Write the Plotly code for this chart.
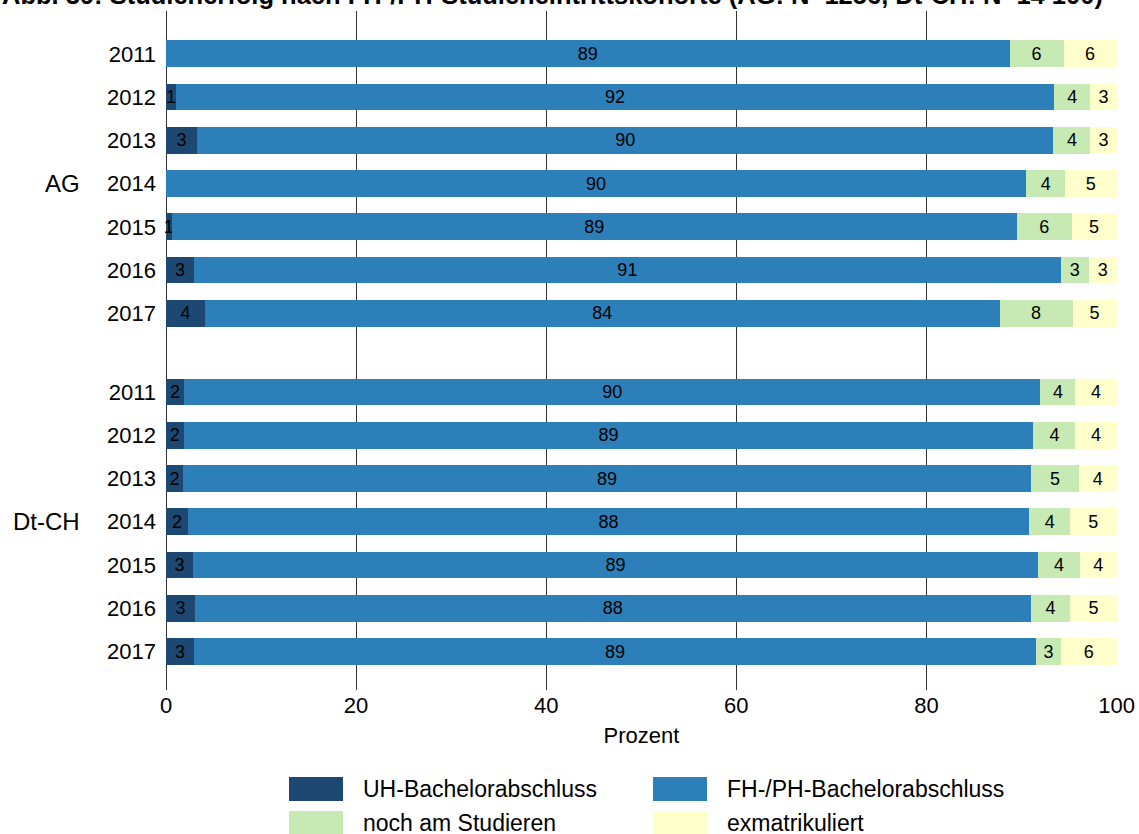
import plotly.graph_objects as go

# ---------------- data ----------------
years = ["2011", "2012", "2013", "2014", "2015", "2016", "2017"]
groups = ["AG", "Dt-CH"]
series_names = ["UH-Bachelorabschluss", "FH-/PH-Bachelorabschluss", "noch am Studieren", "exmatrikuliert"]

ag_uh = [0.0, 1.05, 3.26, 0.0, 0.6, 2.94, 4.1]
ag_fh = [88.75, 92.4, 90.1, 90.5, 88.9, 91.2, 83.6]
ag_noch = [5.68, 3.79, 3.89, 4.1, 5.78, 2.94, 7.68]
ag_exm = [5.57, 2.76, 2.75, 5.4, 4.72, 2.92, 4.62]

ch_uh = [1.89, 1.86, 1.79, 2.31, 2.84, 3.05, 2.94]
ch_fh = [90.1, 89.4, 89.2, 88.5, 88.9, 87.9, 88.6]
ch_noch = [3.68, 4.42, 5.05, 4.31, 4.42, 4.2, 2.63]
ch_exm = [4.33, 4.32, 3.96, 4.88, 3.84, 4.85, 5.83]

colors = ["#1d4872", "#2c7fb8", "#c7e9b4", "#ffffcc"]

title_text = "Abb. 39: Studienerfolg nach FH-/PH-Studieneintrittskohorte (AG: N=1256, Dt-CH: N=14 100)"

# ---------------- layout helpers ----------------
FONT = "Liberation Sans, Arial, sans-serif"
W, H = 1139, 834
ML, MR, MT, MB = 166, 22, 11, 144
PW, PH = W - ML - MR, H - MT - MB
group_offset = 7.82  # row distance between the two blocks

def px_x(px):
    return (px - ML) / PW

def px_y(py):
    return (H - MB - py) / PH

positions = []
ticktext = []
for gi, g in enumerate(groups):
    for yi, y in enumerate(years):
        positions.append(yi + gi * group_offset)
        ticktext.append(y)

all_series = [ag_uh + ch_uh, ag_fh + ch_fh, ag_noch + ch_noch, ag_exm + ch_exm]

fig = go.Figure()
for name, vals, col in zip(series_names, all_series, colors):
    labels = [f"{v:.0f}" if v >= 0.5 else "" for v in vals]
    fig.add_trace(go.Bar(
        x=vals, y=positions, orientation="h", name=name,
        marker=dict(color=col, line=dict(width=0)),
        text=labels, textposition="inside", insidetextanchor="middle",
        constraintext="none", cliponaxis=False,
        textfont=dict(color="black", size=18, family=FONT),
        showlegend=False,
    ))

fig.update_layout(
    width=W, height=H,
    barmode="stack", bargap=0.38,
    margin=dict(l=ML, r=MR, t=MT, b=MB, autoexpand=False),
    plot_bgcolor="white", paper_bgcolor="white",
    font=dict(family=FONT, color="black", size=22),
)
fig.update_xaxes(
    range=[0, 100.05], tickvals=[0, 20, 40, 60, 80, 100],
    showgrid=True, gridcolor="#333333", gridwidth=1,
    zeroline=True, zerolinecolor="#333333", zerolinewidth=1,
    showline=False, ticks="", tickfont=dict(size=22), automargin=False,
    title=dict(text="Prozent", font=dict(size=22), standoff=10),
)
fig.update_yaxes(
    range=[14.71, -0.99], tickvals=positions, ticktext=ticktext,
    showgrid=False, zeroline=False, showline=False, ticks="",
    tickfont=dict(size=22), ticklabelstandoff=9, automargin=False,
)

# title (partly above the top edge, as in the reference)
fig.add_annotation(
    text="<b>" + title_text + "</b>", xref="paper", yref="paper",
    x=px_x(0), y=px_y(-5), xanchor="left", yanchor="middle", showarrow=False,
    font=dict(size=25.5, family=FONT, color="black"),
)

# group labels
for gi, g in enumerate(groups):
    fig.add_annotation(
        text=g, xref="paper", yref="y", x=px_x(82), y=3 + gi * group_offset,
        xanchor="right", yanchor="middle", showarrow=False,
        font=dict(size=24, color="black"),
    )

# legend (two columns, two rows)
leg_cols_px = [289, 653]
leg_rows_px = [789, 823]
for i, (name, col) in enumerate(zip(series_names, colors)):
    cx = leg_cols_px[i % 2]
    cy = leg_rows_px[i // 2]
    fig.add_shape(type="rect", xref="paper", yref="paper",
                  x0=px_x(cx), x1=px_x(cx + 54), y0=px_y(cy - 12), y1=px_y(cy + 12),
                  fillcolor=col, line=dict(width=0))
    fig.add_annotation(text=name, xref="paper", yref="paper",
                       x=px_x(cx + 72), y=px_y(cy), xanchor="left", yanchor="middle",
                       showarrow=False, font=dict(size=23, color="black"))

fig.write_html("out.html", config={"displayModeBar": False},
               post_script="document.body.style.margin='0px';")
